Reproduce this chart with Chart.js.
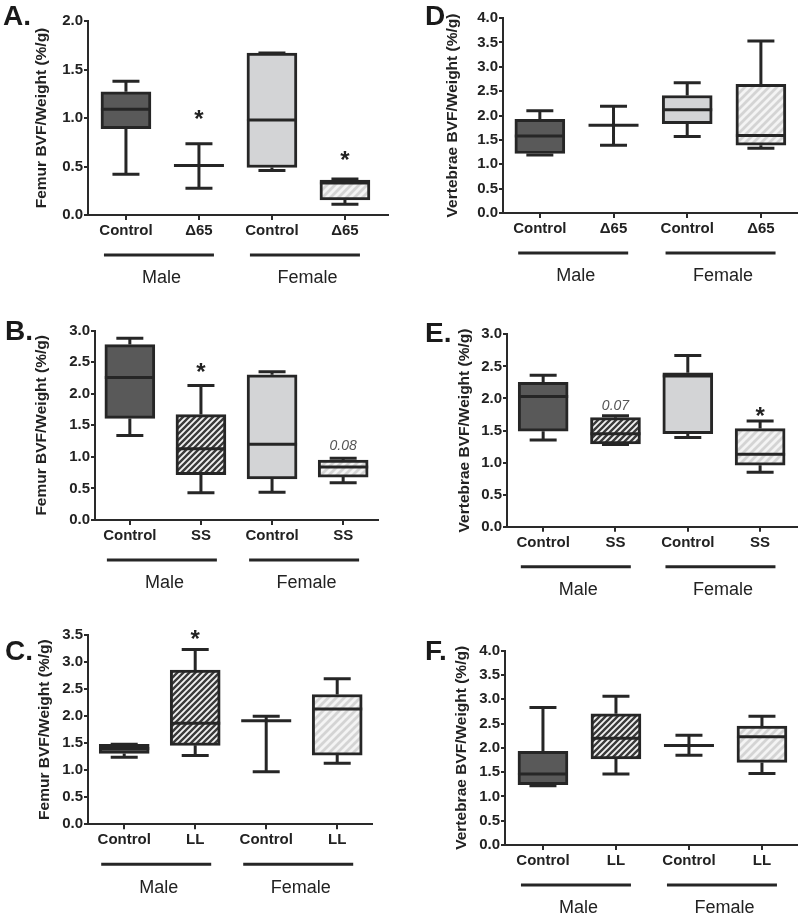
<!DOCTYPE html>
<html>
<head>
<meta charset="utf-8">
<script src="https://cdn.jsdelivr.net/npm/chart.js@4.4.1/dist/chart.umd.min.js"></script>
<style>
  body { margin: 0; background: #fff; }
  #wrap { position: relative; width: 800px; height: 916px; }
  canvas { position: absolute; }
</style>
</head>
<body>
<div id="wrap">
  <canvas id="cA"></canvas>
  <canvas id="cB"></canvas>
  <canvas id="cC"></canvas>
  <canvas id="cD"></canvas>
  <canvas id="cE"></canvas>
  <canvas id="cF"></canvas>
</div>
<script>
// categories
const catsA = ["Control", "Δ65", "Control", "Δ65"];
const catsB = ["Control", "SS", "Control", "SS"];
const catsC = ["Control", "LL", "Control", "LL"];
const sexes = ["Male", "Female"];

// A - femur, Δ65
const aMin = [0.42, 0.275, 0.46, 0.11];
const aQ1 = [0.89, 0.51, 0.49, 0.155];
const aMed = [1.09, 0.51, 0.98, 0.33];
const aQ3 = [1.27, 0.51, 1.67, 0.36];
const aMax = [1.38, 0.735, 1.67, 0.37];
const aMarks = ["", "*", "", "*"];
const aMarkY = [null, 1.05, null, 0.63];

// B - femur, SS
const bMin = [1.34, 0.43, 0.44, 0.59];
const bQ1 = [1.61, 0.72, 0.65, 0.68];
const bMed = [2.26, 1.13, 1.2, 0.84];
const bQ3 = [2.78, 1.67, 2.3, 0.95];
const bMax = [2.88, 2.13, 2.35, 0.98];
const bMarks = ["", "*", "", "0.08"];
const bMarkY = [null, 2.43, null, 1.19];

// C - femur, LL
const cMin = [1.24, 1.27, 0.97, 1.13];
const cQ1 = [1.31, 1.46, 1.915, 1.28];
const cMed = [1.4, 1.87, 1.915, 2.13];
const cQ3 = [1.48, 2.85, 1.915, 2.4];
const cMax = [1.48, 3.23, 2.0, 2.69];
const cMarks = ["", "*", "", ""];
const cMarkY = [null, 3.53, null, null];

// D - vertebrae, Δ65
const dMin = [1.19, 1.39, 1.57, 1.33];
const dQ1 = [1.22, 1.8, 1.83, 1.39];
const dMed = [1.58, 1.8, 2.12, 1.59];
const dQ3 = [1.92, 1.8, 2.41, 2.64];
const dMax = [2.1, 2.19, 2.67, 3.53];
const dMarks = ["", "", "", ""];
const dMarkY = [null, null, null, null];

// E - vertebrae, SS
const eMin = [1.35, 1.28, 1.39, 0.85];
const eQ1 = [1.49, 1.29, 1.45, 0.96];
const eMed = [2.03, 1.45, 2.35, 1.13];
const eQ3 = [2.25, 1.7, 2.4, 1.53];
const eMax = [2.36, 1.73, 2.67, 1.65];
const eMarks = ["", "0.07", "", "*"];
const eMarkY = [null, 1.9, null, 1.81];

// F - vertebrae, LL
const fMin = [1.22, 1.46, 1.85, 1.47];
const fQ1 = [1.24, 1.77, 2.05, 1.7];
const fMed = [1.46, 2.2, 2.05, 2.23];
const fQ3 = [1.93, 2.7, 2.05, 2.45];
const fMax = [2.83, 3.06, 2.26, 2.65];
const fMarks = ["", "", "", ""];
const fMarkY = [null, null, null, null];

const femurTitle = "Femur BVF/Weight (%/g)";
const vertTitle = "Vertebrae BVF/Weight (%/g)";

const ink = "#262626";
const FONT = "'Liberation Sans', Arial, sans-serif";

function hatch(size, bg, fg, lw) {
  const c = document.createElement("canvas");
  c.width = size;
  c.height = size;
  const g = c.getContext("2d");
  g.fillStyle = bg;
  g.fillRect(0, 0, size, size);
  g.strokeStyle = fg;
  g.lineWidth = lw;
  g.beginPath();
  g.moveTo(-1, size + 1);
  g.lineTo(size + 1, -1);
  g.moveTo(-size / 2, size / 2);
  g.lineTo(size / 2, -size / 2);
  g.moveTo(size / 2, size * 1.5);
  g.lineTo(size * 1.5, size / 2);
  g.stroke();
  return g.createPattern(c, "repeat");
}

const fills = [
  "#595959",
  hatch(6, "#f2f2f2", "#3a3a3a", 2.4),
  "#d3d4d6",
  hatch(8, "#f4f4f4", "#d4d4d4", 2.8),
];

const panels = [
  { id: "cA", left: 0, top: 0, h: 300, area: { l: 88, r: 388, t: 21, b: 215 }, titleX: 42,
    xMin: -0.52, xMax: 3.59, yMax: 2.0, yTitle: femurTitle, letter: "A.", letterX: 3, letterBase: 25,
    cats: catsA, min: aMin, q1: aQ1, med: aMed, q3: aQ3, max: aMax, marks: aMarks, markY: aMarkY },
  { id: "cB", left: 0, top: 300, h: 310, area: { l: 95, r: 378, t: 330.7, b: 520 }, titleX: 42,
    xMin: -0.49, xMax: 3.49, yMax: 3.0, yTitle: femurTitle, letter: "B.", letterX: 5, letterBase: 340,
    cats: catsB, min: bMin, q1: bQ1, med: bMed, q3: bQ3, max: bMax, marks: bMarks, markY: bMarkY },
  { id: "cC", left: 0, top: 610, h: 306, area: { l: 88, r: 372, t: 635, b: 824.3 }, titleX: 45,
    xMin: -0.51, xMax: 3.49, yMax: 3.5, yTitle: femurTitle, letter: "C.", letterX: 5, letterBase: 660,
    cats: catsC, min: cMin, q1: cQ1, med: cMed, q3: cQ3, max: cMax, marks: cMarks, markY: cMarkY },
  { id: "cD", left: 400, top: 0, h: 300, area: { l: 503, r: 797, t: 18, b: 213 }, titleX: 453,
    xMin: -0.5, xMax: 3.49, yMax: 4.0, yTitle: vertTitle, letter: "D", letterX: 425, letterBase: 25,
    cats: catsA, min: dMin, q1: dQ1, med: dMed, q3: dQ3, max: dMax, marks: dMarks, markY: dMarkY },
  { id: "cE", left: 400, top: 300, h: 310, area: { l: 507, r: 797, t: 334.3, b: 526.7 }, titleX: 465,
    xMin: -0.5, xMax: 3.51, yMax: 3.0, yTitle: vertTitle, letter: "E.", letterX: 425, letterBase: 342,
    cats: catsB, min: eMin, q1: eQ1, med: eMed, q3: eQ3, max: eMax, marks: eMarks, markY: eMarkY },
  { id: "cF", left: 400, top: 610, h: 306, area: { l: 505, r: 797, t: 650.7, b: 845 }, titleX: 462,
    xMin: -0.52, xMax: 3.48, yMax: 4.0, yTitle: vertTitle, letter: "F.", letterX: 425, letterBase: 660,
    cats: catsC, min: fMin, q1: fQ1, med: fMed, q3: fQ3, max: fMax, marks: fMarks, markY: fMarkY },
];

function boxPlugin(p) {
  return {
    id: "box" + p.id,
    // whiskers and caps go under the boxes
    beforeDatasetsDraw(chart) {
      const { ctx, scales: { x, y } } = chart;
      ctx.save();
      ctx.strokeStyle = ink;
      ctx.lineWidth = 3;
      ctx.beginPath();
      p.q1.forEach((lo, i) => {
        const cx = x.getPixelForValue(i);
        ctx.moveTo(cx, y.getPixelForValue(p.max[i]));
        ctx.lineTo(cx, y.getPixelForValue(p.q3[i]));
        ctx.moveTo(cx, y.getPixelForValue(lo));
        ctx.lineTo(cx, y.getPixelForValue(p.min[i]));
        [p.min[i], p.max[i]].forEach((v) => {
          const py = y.getPixelForValue(v);
          ctx.moveTo(cx - 13.5, py);
          ctx.lineTo(cx + 13.5, py);
        });
      });
      ctx.stroke();
      ctx.restore();
    },
    afterDatasetsDraw(chart) {
      const { ctx, scales: { x, y } } = chart;
      ctx.save();
      ctx.strokeStyle = ink;
      ctx.lineWidth = 3;
      ctx.beginPath();
      p.med.forEach((m, i) => {
        const cx = x.getPixelForValue(i);
        const py = y.getPixelForValue(m);
        ctx.moveTo(cx - 25, py);
        ctx.lineTo(cx + 25, py);
      });
      ctx.stroke();

      ctx.textAlign = "center";
      ctx.textBaseline = "alphabetic";
      p.marks.forEach((t, i) => {
        if (!t) return;
        const cx = x.getPixelForValue(i);
        const py = y.getPixelForValue(p.markY[i]);
        if (t === "*") {
          ctx.font = "bold 24px " + FONT;
          ctx.fillStyle = "#222";
          ctx.fillText(t, cx, py + 0.57 * 24);
        } else {
          ctx.font = "italic 14px " + FONT;
          ctx.fillStyle = "#555";
          ctx.fillText(t, cx, py + 5);
        }
      });
      ctx.restore();
    },
    afterDraw(chart) {
      const { ctx, chartArea, scales: { x } } = chart;
      ctx.save();
      // group bars + sex labels
      ctx.strokeStyle = ink;
      ctx.lineWidth = 3;
      ctx.fillStyle = "#222";
      ctx.font = "18px " + FONT;
      ctx.textAlign = "center";
      ctx.textBaseline = "alphabetic";
      sexes.forEach((s, k) => {
        const mid = (x.getPixelForValue(2 * k) + x.getPixelForValue(2 * k + 1)) / 2;
        const ly = chartArea.bottom + 40;
        ctx.beginPath();
        ctx.moveTo(mid - 3.5 - 55, ly);
        ctx.lineTo(mid - 3.5 + 55, ly);
        ctx.stroke();
        ctx.fillText(s, mid - 1, chartArea.bottom + 62 + 6.4);
      });

      // y title
      ctx.save();
      ctx.translate(p.titleX - p.left, (chartArea.top + chartArea.bottom) / 2);
      ctx.rotate(-Math.PI / 2);
      ctx.font = "bold 15.5px " + FONT;
      ctx.textBaseline = "middle";
      ctx.fillText(p.yTitle, 0, 0);
      ctx.restore();

      // panel letter
      ctx.textAlign = "left";
      ctx.font = "bold 28px " + FONT;
      ctx.fillStyle = "#1a1a1a";
      ctx.fillText(p.letter, p.letterX - p.left, p.letterBase - p.top);
      ctx.restore();
    },
  };
}

function makeChart(p) {
  const canvas = document.getElementById(p.id);
  canvas.width = 400;
  canvas.height = p.h;
  canvas.style.left = p.left + "px";
  canvas.style.top = p.top + "px";

  const tickFont = { family: FONT, size: 15, weight: "bold" };
  const axisColor = "#2a2a2a";

  new Chart(canvas, {
    type: "bar",
    data: {
      datasets: [
        {
          data: p.q1.map((v, i) => ({ x: i, y: [v, p.q3[i]] })),
          backgroundColor: fills,
          borderColor: ink,
          borderWidth: 3,
          borderSkipped: false,
          barThickness: 50,
        },
      ],
    },
    options: {
      responsive: false,
      animation: false,
      events: [],
      layout: {
        autoPadding: false,
        padding: {
          left: 0,
          top: p.area.t - p.top,
          right: p.left + 400 - p.area.r,
          bottom: 0,
        },
      },
      plugins: {
        legend: { display: false },
        tooltip: { enabled: false },
      },
      scales: {
        x: {
          type: "linear",
          min: p.xMin,
          max: p.xMax,
          offset: false,
          afterBuildTicks: (ax) => {
            ax.ticks = p.cats.map((c, i) => ({ value: i }));
          },
          afterFit: (ax) => {
            ax.height = p.h - (p.area.b - p.top);
          },
          ticks: {
            callback: (v) => p.cats[v],
            font: tickFont,
            color: "#222",
            padding: 2,
            autoSkip: false,
            maxRotation: 0,
          },
          grid: {
            offset: false,
            drawOnChartArea: false,
            tickLength: 5,
            color: axisColor,
            lineWidth: 2,
          },
          border: { color: axisColor, width: 2 },
        },
        y: {
          min: 0,
          max: p.yMax,
          afterFit: (ax) => {
            ax.width = p.area.l - p.left;
          },
          ticks: {
            stepSize: 0.5,
            callback: (v) => v.toFixed(1),
            font: tickFont,
            color: "#222",
            padding: 1,
          },
          grid: {
            drawOnChartArea: false,
            tickLength: 4,
            color: axisColor,
            lineWidth: 2,
          },
          border: { color: axisColor, width: 2 },
        },
      },
    },
    plugins: [boxPlugin(p)],
  });
}

panels.forEach(makeChart);
</script>
</body>
</html>
